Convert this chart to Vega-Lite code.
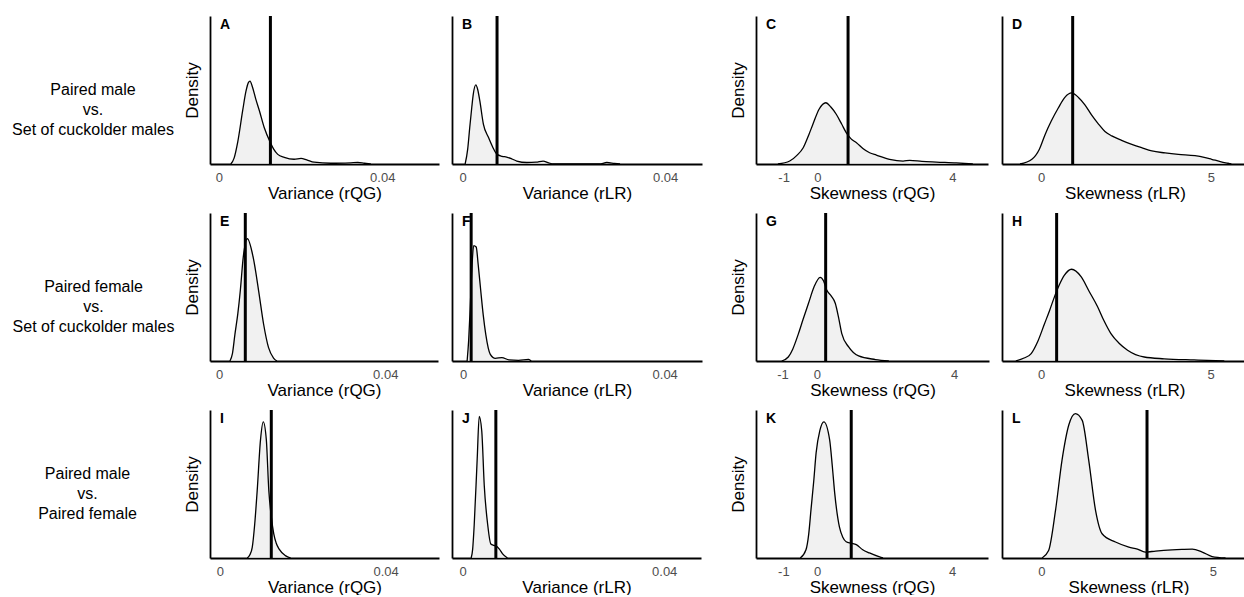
{
  "$schema": "https://vega.github.io/schema/vega-lite/v6.json",
  "padding": {"left": 0, "top": 14, "right": 0, "bottom": 0},
  "background": "white",
  "bounds": "flush",
  "columns": 6,
  "align": {"row": "all", "column": "none"},
  "spacing": {"row": 49, "column": 13},
  "config": {
    "font": "Liberation Sans",
    "view": {"stroke": null},
    "axis": {"domainColor": "black", "domainWidth": 1.8, "ticks": false, "grid": false, "labelColor": "#4d4d4d", "labelFontSize": 13, "labelPadding": 7, "labelFlush": false, "labelOverlap": false, "titleFontSize": 17, "titleFontWeight": "normal", "titleColor": "black"},
    "axisX": {"titlePadding": 1},
    "axisY": {"labels": false, "titlePadding": 9},
    "title": {"anchor": "start", "frame": "group", "baseline": "top", "offset": -17.5, "dx": 10, "fontSize": 14, "fontWeight": "bold", "color": "black"},
    "text": {"fontSize": 16, "lineHeight": 20, "lineBreak": "\n", "color": "black"}
  },
  "datasets": {
    "curves": [
      {"p":"A","x":0.0029,"d":0},{"p":"A","x":0.0037,"d":0.04},{"p":"A","x":0.0046,"d":0.15},{"p":"A","x":0.0058,"d":0.36},{"p":"A","x":0.0066,"d":0.49},{"p":"A","x":0.0072,"d":0.55},{"p":"A","x":0.0076,"d":0.56},{"p":"A","x":0.0082,"d":0.52},{"p":"A","x":0.009,"d":0.44},{"p":"A","x":0.0099,"d":0.36},{"p":"A","x":0.0111,"d":0.245},{"p":"A","x":0.0126,"d":0.144},{"p":"A","x":0.0134,"d":0.1},{"p":"A","x":0.0144,"d":0.065},{"p":"A","x":0.016,"d":0.045},{"p":"A","x":0.0184,"d":0.032},{"p":"A","x":0.0201,"d":0.038},{"p":"A","x":0.0215,"d":0.028},{"p":"A","x":0.0233,"d":0.012},{"p":"A","x":0.0274,"d":0.005},{"p":"A","x":0.0323,"d":0.008},{"p":"A","x":0.034,"d":0.01},{"p":"A","x":0.0356,"d":0.005},{"p":"A","x":0.0372,"d":0},
      {"p":"B","x":0.0005,"d":0},{"p":"B","x":0.001,"d":0.1},{"p":"B","x":0.0014,"d":0.245},{"p":"B","x":0.0018,"d":0.38},{"p":"B","x":0.0021,"d":0.47},{"p":"B","x":0.0026,"d":0.534},{"p":"B","x":0.003,"d":0.5},{"p":"B","x":0.0034,"d":0.426},{"p":"B","x":0.0041,"d":0.27},{"p":"B","x":0.0051,"d":0.18},{"p":"B","x":0.006,"d":0.11},{"p":"B","x":0.0068,"d":0.065},{"p":"B","x":0.0078,"d":0.052},{"p":"B","x":0.0087,"d":0.047},{"p":"B","x":0.0097,"d":0.035},{"p":"B","x":0.0107,"d":0.02},{"p":"B","x":0.0127,"d":0.01},{"p":"B","x":0.0145,"d":0.012},{"p":"B","x":0.0159,"d":0.02},{"p":"B","x":0.017,"d":0.008},{"p":"B","x":0.0179,"d":0},{"p":"B","x":0.027,"d":0},{"p":"B","x":0.0285,"d":0.01},{"p":"B","x":0.03,"d":0.004},{"p":"B","x":0.0311,"d":0},
      {"p":"C","x":-1.17,"d":0},{"p":"C","x":-0.82,"d":0.02},{"p":"C","x":-0.6,"d":0.06},{"p":"C","x":-0.42,"d":0.11},{"p":"C","x":-0.25,"d":0.2},{"p":"C","x":-0.13,"d":0.27},{"p":"C","x":0.05,"d":0.37},{"p":"C","x":0.25,"d":0.414},{"p":"C","x":0.4,"d":0.385},{"p":"C","x":0.56,"d":0.336},{"p":"C","x":0.72,"d":0.27},{"p":"C","x":0.86,"d":0.21},{"p":"C","x":1.0,"d":0.17},{"p":"C","x":1.16,"d":0.144},{"p":"C","x":1.35,"d":0.105},{"p":"C","x":1.55,"d":0.076},{"p":"C","x":1.75,"d":0.06},{"p":"C","x":2.14,"d":0.032},{"p":"C","x":2.54,"d":0.02},{"p":"C","x":2.74,"d":0.025},{"p":"C","x":3.1,"d":0.018},{"p":"C","x":3.53,"d":0.013},{"p":"C","x":4.12,"d":0.007},{"p":"C","x":4.61,"d":0},
      {"p":"D","x":-0.62,"d":0},{"p":"D","x":-0.27,"d":0.032},{"p":"D","x":-0.05,"d":0.1},{"p":"D","x":0.12,"d":0.2},{"p":"D","x":0.3,"d":0.29},{"p":"D","x":0.51,"d":0.38},{"p":"D","x":0.7,"d":0.45},{"p":"D","x":0.9,"d":0.48},{"p":"D","x":1.1,"d":0.45},{"p":"D","x":1.29,"d":0.4},{"p":"D","x":1.49,"d":0.33},{"p":"D","x":1.69,"d":0.27},{"p":"D","x":1.88,"d":0.22},{"p":"D","x":2.08,"d":0.19},{"p":"D","x":2.37,"d":0.16},{"p":"D","x":2.67,"d":0.133},{"p":"D","x":2.96,"d":0.11},{"p":"D","x":3.26,"d":0.088},{"p":"D","x":3.65,"d":0.075},{"p":"D","x":4.04,"d":0.065},{"p":"D","x":4.53,"d":0.056},{"p":"D","x":4.8,"d":0.045},{"p":"D","x":5.02,"d":0.032},{"p":"D","x":5.3,"d":0.015},{"p":"D","x":5.5,"d":0.005},{"p":"D","x":5.6,"d":0},
      {"p":"E","x":0.0026,"d":0},{"p":"E","x":0.0032,"d":0.05},{"p":"E","x":0.0038,"d":0.18},{"p":"E","x":0.0045,"d":0.32},{"p":"E","x":0.0051,"d":0.476},{"p":"E","x":0.0058,"d":0.7},{"p":"E","x":0.0068,"d":0.826},{"p":"E","x":0.0082,"d":0.7},{"p":"E","x":0.0095,"d":0.476},{"p":"E","x":0.0107,"d":0.25},{"p":"E","x":0.0119,"d":0.09},{"p":"E","x":0.0131,"d":0.02},{"p":"E","x":0.0139,"d":0},
      {"p":"F","x":0.0008,"d":0},{"p":"F","x":0.0011,"d":0.136},{"p":"F","x":0.0014,"d":0.35},{"p":"F","x":0.0017,"d":0.59},{"p":"F","x":0.0021,"d":0.78},{"p":"F","x":0.0026,"d":0.77},{"p":"F","x":0.003,"d":0.65},{"p":"F","x":0.0035,"d":0.476},{"p":"F","x":0.004,"d":0.31},{"p":"F","x":0.0045,"d":0.18},{"p":"F","x":0.0054,"d":0.045},{"p":"F","x":0.0064,"d":0.018},{"p":"F","x":0.0077,"d":0.023},{"p":"F","x":0.0091,"d":0.007},{"p":"F","x":0.011,"d":0.004},{"p":"F","x":0.013,"d":0.01},{"p":"F","x":0.0135,"d":0},
      {"p":"G","x":-1.02,"d":0},{"p":"G","x":-0.83,"d":0.027},{"p":"G","x":-0.7,"d":0.08},{"p":"G","x":-0.54,"d":0.18},{"p":"G","x":-0.4,"d":0.28},{"p":"G","x":-0.24,"d":0.39},{"p":"G","x":-0.08,"d":0.5},{"p":"G","x":0.1,"d":0.565},{"p":"G","x":0.2,"d":0.54},{"p":"G","x":0.29,"d":0.48},{"p":"G","x":0.42,"d":0.44},{"p":"G","x":0.54,"d":0.39},{"p":"G","x":0.64,"d":0.29},{"p":"G","x":0.73,"d":0.185},{"p":"G","x":0.93,"d":0.095},{"p":"G","x":1.22,"d":0.034},{"p":"G","x":1.71,"d":0.01},{"p":"G","x":2.1,"d":0},
      {"p":"H","x":-0.74,"d":0},{"p":"H","x":-0.5,"d":0.02},{"p":"H","x":-0.29,"d":0.05},{"p":"H","x":-0.1,"d":0.13},{"p":"H","x":0.1,"d":0.25},{"p":"H","x":0.25,"d":0.34},{"p":"H","x":0.39,"d":0.43},{"p":"H","x":0.55,"d":0.52},{"p":"H","x":0.69,"d":0.58},{"p":"H","x":0.9,"d":0.62},{"p":"H","x":1.18,"d":0.57},{"p":"H","x":1.42,"d":0.47},{"p":"H","x":1.66,"d":0.37},{"p":"H","x":1.86,"d":0.27},{"p":"H","x":2.06,"d":0.185},{"p":"H","x":2.3,"d":0.12},{"p":"H","x":2.55,"d":0.073},{"p":"H","x":3.04,"d":0.027},{"p":"H","x":3.63,"d":0.015},{"p":"H","x":4.51,"d":0.007},{"p":"H","x":4.9,"d":0.004},{"p":"H","x":5.4,"d":0},
      {"p":"I","x":0.0066,"d":0},{"p":"I","x":0.0072,"d":0.02},{"p":"I","x":0.0078,"d":0.072},{"p":"I","x":0.0084,"d":0.23},{"p":"I","x":0.009,"d":0.457},{"p":"I","x":0.0098,"d":0.8},{"p":"I","x":0.01046,"d":0.92},{"p":"I","x":0.0112,"d":0.8},{"p":"I","x":0.0118,"d":0.457},{"p":"I","x":0.0124,"d":0.28},{"p":"I","x":0.013,"d":0.163},{"p":"I","x":0.0136,"d":0.1},{"p":"I","x":0.0143,"d":0.06},{"p":"I","x":0.0158,"d":0.016},{"p":"I","x":0.0171,"d":0},
      {"p":"J","x":0.0017,"d":0},{"p":"J","x":0.002,"d":0.06},{"p":"J","x":0.0023,"d":0.22},{"p":"J","x":0.0029,"d":0.67},{"p":"J","x":0.0033,"d":0.957},{"p":"J","x":0.0038,"d":0.86},{"p":"J","x":0.0043,"d":0.49},{"p":"J","x":0.005,"d":0.22},{"p":"J","x":0.0056,"d":0.095},{"p":"J","x":0.0062,"d":0.085},{"p":"J","x":0.0067,"d":0.08},{"p":"J","x":0.0073,"d":0.06},{"p":"J","x":0.0079,"d":0.03},{"p":"J","x":0.0089,"d":0},
      {"p":"K","x":-0.5,"d":0},{"p":"K","x":-0.33,"d":0.056},{"p":"K","x":-0.25,"d":0.16},{"p":"K","x":-0.18,"d":0.33},{"p":"K","x":-0.1,"d":0.52},{"p":"K","x":-0.03,"d":0.71},{"p":"K","x":0.08,"d":0.86},{"p":"K","x":0.2,"d":0.92},{"p":"K","x":0.37,"d":0.8},{"p":"K","x":0.45,"d":0.62},{"p":"K","x":0.52,"d":0.44},{"p":"K","x":0.66,"d":0.21},{"p":"K","x":0.76,"d":0.14},{"p":"K","x":0.86,"d":0.11},{"p":"K","x":1.01,"d":0.1},{"p":"K","x":1.16,"d":0.09},{"p":"K","x":1.35,"d":0.056},{"p":"K","x":1.55,"d":0.034},{"p":"K","x":1.85,"d":0.007},{"p":"K","x":1.95,"d":0},
      {"p":"L","x":0.02,"d":0},{"p":"L","x":0.21,"d":0.05},{"p":"L","x":0.41,"d":0.32},{"p":"L","x":0.6,"d":0.66},{"p":"L","x":0.8,"d":0.9},{"p":"L","x":0.99,"d":0.976},{"p":"L","x":1.19,"d":0.93},{"p":"L","x":1.38,"d":0.66},{"p":"L","x":1.58,"d":0.32},{"p":"L","x":1.77,"d":0.164},{"p":"L","x":2.16,"d":0.108},{"p":"L","x":2.55,"d":0.074},{"p":"L","x":2.8,"d":0.06},{"p":"L","x":3.03,"d":0.04},{"p":"L","x":3.33,"d":0.047},{"p":"L","x":3.81,"d":0.055},{"p":"L","x":4.1,"d":0.058},{"p":"L","x":4.4,"d":0.06},{"p":"L","x":4.69,"d":0.04},{"p":"L","x":4.98,"d":0.01},{"p":"L","x":5.37,"d":0}
    ],
    "vlines": [
      {"p":"A","v":0.0126},{"p":"B","v":0.0068},{"p":"C","v":0.91},{"p":"D","v":0.93},
      {"p":"E","v":0.0063},{"p":"F","v":0.0016},{"p":"G","v":0.26},{"p":"H","v":0.46},
      {"p":"I","v":0.0124},{"p":"J","v":0.0066},{"p":"K","v":1.01},{"p":"L","v":3.08}
    ]
  },
  "concat": [
    {"width":196,"height":148,"data":{"values":[{"label":"Paired male\nvs.\nSet of cuckolder males"}]},"mark":{"type":"text","dx":-5,"dy":0},"encoding":{"text":{"field":"label"}}},
    {"width":229,"height":148,"title":"A","layer":[
      {"data":{"name":"curves"},"transform":[{"filter":"datum.p==='A'"}],"mark":{"type":"area","color":"#ebebeb","interpolate":"monotone","line":{"color":"black","strokeWidth":1.3}},
       "encoding":{"x":{"field":"x","type":"quantitative","scale":{"domain":[-0.0022,0.0539],"nice":false,"zero":false},"axis":{"title":"Variance (rQG)","values":[0,0.04],"labelExpr":"'' + datum.value"}},
                   "y":{"field":"d","type":"quantitative","scale":{"domain":[0,1],"nice":false},"axis":{"title":"Density"}}}},
      {"data":{"name":"vlines"},"transform":[{"filter":"datum.p==='A'"}],"mark":{"type":"rule","color":"black","strokeWidth":3},"encoding":{"x":{"field":"v","type":"quantitative"}}}]},
    {"width":250,"height":148,"title":"B","layer":[
      {"data":{"name":"curves"},"transform":[{"filter":"datum.p==='B'"}],"mark":{"type":"area","color":"#ebebeb","interpolate":"monotone","line":{"color":"black","strokeWidth":1.3}},
       "encoding":{"x":{"field":"x","type":"quantitative","scale":{"domain":[-0.0021,0.0473],"nice":false,"zero":false},"axis":{"title":"Variance (rLR)","values":[0,0.04],"labelExpr":"'' + datum.value"}},
                   "y":{"field":"d","type":"quantitative","scale":{"domain":[0,1],"nice":false},"axis":{"title":null}}}},
      {"data":{"name":"vlines"},"transform":[{"filter":"datum.p==='B'"}],"mark":{"type":"rule","color":"black","strokeWidth":3},"encoding":{"x":{"field":"v","type":"quantitative"}}}]},
    {"width":26,"height":148,"data":{"values":[]},"mark":"point","encoding":{}},
    {"width":232,"height":148,"title":"C","layer":[
      {"data":{"name":"curves"},"transform":[{"filter":"datum.p==='C'"}],"mark":{"type":"area","color":"#ebebeb","interpolate":"monotone","line":{"color":"black","strokeWidth":1.3}},
       "encoding":{"x":{"field":"x","type":"quantitative","scale":{"domain":[-1.82,5.06],"nice":false,"zero":false},"axis":{"title":"Skewness (rQG)","values":[-1,0,4],"labelExpr":"'' + datum.value"}},
                   "y":{"field":"d","type":"quantitative","scale":{"domain":[0,1],"nice":false},"axis":{"title":"Density"}}}},
      {"data":{"name":"vlines"},"transform":[{"filter":"datum.p==='C'"}],"mark":{"type":"rule","color":"black","strokeWidth":3},"encoding":{"x":{"field":"v","type":"quantitative"}}}]},
    {"width":246,"height":148,"title":"D","layer":[
      {"data":{"name":"curves"},"transform":[{"filter":"datum.p==='D'"}],"mark":{"type":"area","color":"#ebebeb","interpolate":"monotone","line":{"color":"black","strokeWidth":1.3}},
       "encoding":{"x":{"field":"x","type":"quantitative","scale":{"domain":[-1.15,6.09],"nice":false,"zero":false},"axis":{"title":"Skewness (rLR)","values":[0,5],"labelExpr":"'' + datum.value"}},
                   "y":{"field":"d","type":"quantitative","scale":{"domain":[0,1],"nice":false},"axis":{"title":null}}}},
      {"data":{"name":"vlines"},"transform":[{"filter":"datum.p==='D'"}],"mark":{"type":"rule","color":"black","strokeWidth":3},"encoding":{"x":{"field":"v","type":"quantitative"}}}]},

    {"width":197,"height":148,"data":{"values":[{"label":"Paired female\nvs.\nSet of cuckolder males"}]},"mark":{"type":"text","dx":-5,"dy":0},"encoding":{"text":{"field":"label"}}},
    {"width":228,"height":148,"title":"E","layer":[
      {"data":{"name":"curves"},"transform":[{"filter":"datum.p==='E'"}],"mark":{"type":"area","color":"#ebebeb","interpolate":"monotone","line":{"color":"black","strokeWidth":1.3}},
       "encoding":{"x":{"field":"x","type":"quantitative","scale":{"domain":[-0.0022,0.0527],"nice":false,"zero":false},"axis":{"title":"Variance (rQG)","values":[0,0.04],"labelExpr":"'' + datum.value"}},
                   "y":{"field":"d","type":"quantitative","scale":{"domain":[0,1],"nice":false},"axis":{"title":"Density"}}}},
      {"data":{"name":"vlines"},"transform":[{"filter":"datum.p==='E'"}],"mark":{"type":"rule","color":"black","strokeWidth":3},"encoding":{"x":{"field":"v","type":"quantitative"}}}]},
    {"width":250,"height":148,"title":"F","layer":[
      {"data":{"name":"curves"},"transform":[{"filter":"datum.p==='F'"}],"mark":{"type":"area","color":"#ebebeb","interpolate":"monotone","line":{"color":"black","strokeWidth":1.3}},
       "encoding":{"x":{"field":"x","type":"quantitative","scale":{"domain":[-0.0022,0.0474],"nice":false,"zero":false},"axis":{"title":"Variance (rLR)","values":[0,0.04],"labelExpr":"'' + datum.value"}},
                   "y":{"field":"d","type":"quantitative","scale":{"domain":[0,1],"nice":false},"axis":{"title":null}}}},
      {"data":{"name":"vlines"},"transform":[{"filter":"datum.p==='F'"}],"mark":{"type":"rule","color":"black","strokeWidth":3},"encoding":{"x":{"field":"v","type":"quantitative"}}}]},
    {"width":26,"height":148,"data":{"values":[]},"mark":"point","encoding":{}},
    {"width":233,"height":148,"title":"G","layer":[
      {"data":{"name":"curves"},"transform":[{"filter":"datum.p==='G'"}],"mark":{"type":"area","color":"#ebebeb","interpolate":"monotone","line":{"color":"black","strokeWidth":1.3}},
       "encoding":{"x":{"field":"x","type":"quantitative","scale":{"domain":[-1.77,5.02],"nice":false,"zero":false},"axis":{"title":"Skewness (rQG)","values":[-1,0,4],"labelExpr":"'' + datum.value"}},
                   "y":{"field":"d","type":"quantitative","scale":{"domain":[0,1],"nice":false},"axis":{"title":"Density"}}}},
      {"data":{"name":"vlines"},"transform":[{"filter":"datum.p==='G'"}],"mark":{"type":"rule","color":"black","strokeWidth":3},"encoding":{"x":{"field":"v","type":"quantitative"}}}]},
    {"width":245,"height":148,"title":"H","layer":[
      {"data":{"name":"curves"},"transform":[{"filter":"datum.p==='H'"}],"mark":{"type":"area","color":"#ebebeb","interpolate":"monotone","line":{"color":"black","strokeWidth":1.3}},
       "encoding":{"x":{"field":"x","type":"quantitative","scale":{"domain":[-1.15,6.07],"nice":false,"zero":false},"axis":{"title":"Skewness (rLR)","values":[0,5],"labelExpr":"'' + datum.value"}},
                   "y":{"field":"d","type":"quantitative","scale":{"domain":[0,1],"nice":false},"axis":{"title":null}}}},
      {"data":{"name":"vlines"},"transform":[{"filter":"datum.p==='H'"}],"mark":{"type":"rule","color":"black","strokeWidth":3},"encoding":{"x":{"field":"v","type":"quantitative"}}}]},

    {"width":185,"height":148,"data":{"values":[{"label":"Paired male\nvs.\nPaired female"}]},"mark":{"type":"text","dx":-5,"dy":-10},"encoding":{"text":{"field":"label"}}},
    {"width":229,"height":148,"title":"I","layer":[
      {"data":{"name":"curves"},"transform":[{"filter":"datum.p==='I'"}],"mark":{"type":"area","color":"#ebebeb","interpolate":"monotone","line":{"color":"black","strokeWidth":1.3}},
       "encoding":{"x":{"field":"x","type":"quantitative","scale":{"domain":[-0.0024,0.0529],"nice":false,"zero":false},"axis":{"title":"Variance (rQG)","values":[0,0.04],"labelExpr":"'' + datum.value"}},
                   "y":{"field":"d","type":"quantitative","scale":{"domain":[0,1],"nice":false},"axis":{"title":"Density"}}}},
      {"data":{"name":"vlines"},"transform":[{"filter":"datum.p==='I'"}],"mark":{"type":"rule","color":"black","strokeWidth":3},"encoding":{"x":{"field":"v","type":"quantitative"}}}]},
    {"width":249,"height":148,"title":"J","layer":[
      {"data":{"name":"curves"},"transform":[{"filter":"datum.p==='J'"}],"mark":{"type":"area","color":"#ebebeb","interpolate":"monotone","line":{"color":"black","strokeWidth":1.3}},
       "encoding":{"x":{"field":"x","type":"quantitative","scale":{"domain":[-0.0021,0.0473],"nice":false,"zero":false},"axis":{"title":"Variance (rLR)","values":[0,0.04],"labelExpr":"'' + datum.value"}},
                   "y":{"field":"d","type":"quantitative","scale":{"domain":[0,1],"nice":false},"axis":{"title":null}}}},
      {"data":{"name":"vlines"},"transform":[{"filter":"datum.p==='J'"}],"mark":{"type":"rule","color":"black","strokeWidth":3},"encoding":{"x":{"field":"v","type":"quantitative"}}}]},
    {"width":28,"height":148,"data":{"values":[]},"mark":"point","encoding":{}},
    {"width":232,"height":148,"title":"K","layer":[
      {"data":{"name":"curves"},"transform":[{"filter":"datum.p==='K'"}],"mark":{"type":"area","color":"#ebebeb","interpolate":"monotone","line":{"color":"black","strokeWidth":1.3}},
       "encoding":{"x":{"field":"x","type":"quantitative","scale":{"domain":[-1.81,5.06],"nice":false,"zero":false},"axis":{"title":"Skewness (rQG)","values":[-1,0,4],"labelExpr":"'' + datum.value"}},
                   "y":{"field":"d","type":"quantitative","scale":{"domain":[0,1],"nice":false},"axis":{"title":"Density"}}}},
      {"data":{"name":"vlines"},"transform":[{"filter":"datum.p==='K'"}],"mark":{"type":"rule","color":"black","strokeWidth":3},"encoding":{"x":{"field":"v","type":"quantitative"}}}]},
    {"width":253,"height":148,"title":"L","layer":[
      {"data":{"name":"curves"},"transform":[{"filter":"datum.p==='L'"}],"mark":{"type":"area","color":"#ebebeb","interpolate":"monotone","line":{"color":"black","strokeWidth":1.3}},
       "encoding":{"x":{"field":"x","type":"quantitative","scale":{"domain":[-1.15,6.23],"nice":false,"zero":false},"axis":{"title":"Skewness (rLR)","values":[0,5],"labelExpr":"'' + datum.value"}},
                   "y":{"field":"d","type":"quantitative","scale":{"domain":[0,1],"nice":false},"axis":{"title":null}}}},
      {"data":{"name":"vlines"},"transform":[{"filter":"datum.p==='L'"}],"mark":{"type":"rule","color":"black","strokeWidth":3},"encoding":{"x":{"field":"v","type":"quantitative"}}}]}
  ]
}
